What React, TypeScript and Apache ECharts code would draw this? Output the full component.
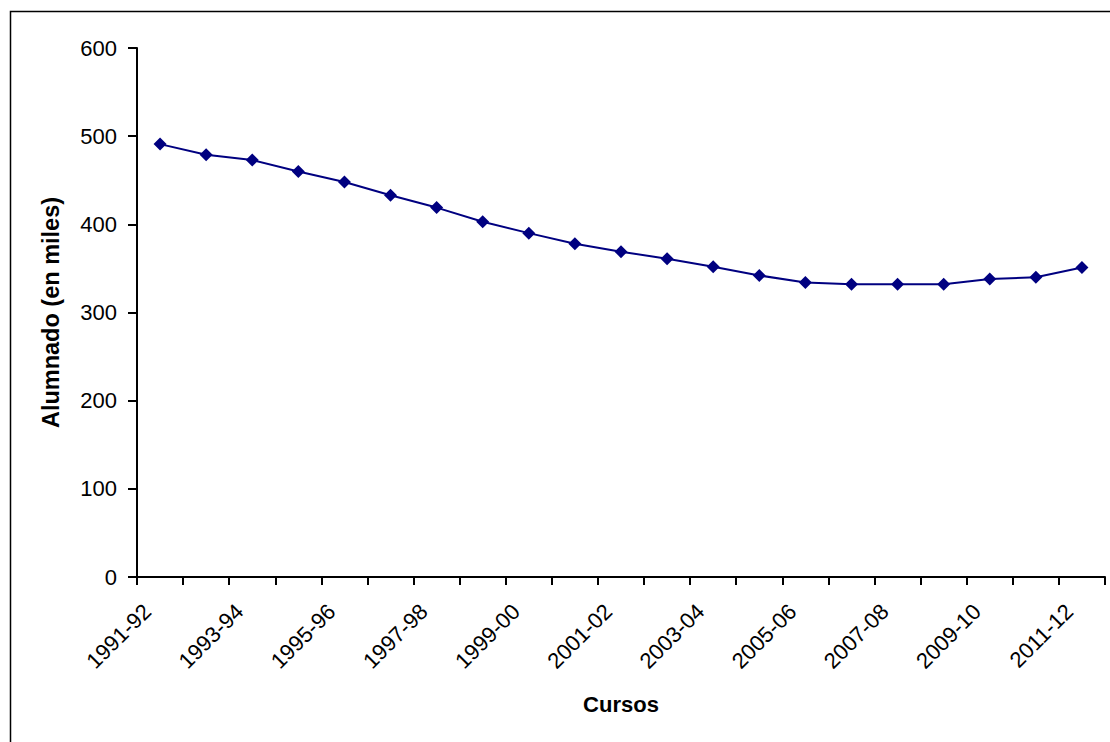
import React, { useEffect, useRef } from "react";
import * as echarts from "echarts";

const cursos = [
  "1991-92", "1992-93", "1993-94", "1994-95", "1995-96", "1996-97", "1997-98",
  "1998-99", "1999-00", "2000-01", "2001-02", "2002-03", "2003-04", "2004-05",
  "2005-06", "2006-07", "2007-08", "2008-09", "2009-10", "2010-11", "2011-12",
];
const alumnado = [
  491, 479, 473, 460, 448, 433, 419, 403, 390, 378, 369, 361, 352, 342, 334,
  332, 332, 332, 338, 340, 351,
];
const yTicks = [0, 100, 200, 300, 400, 500, 600];

const FONT = "'Liberation Sans', Arial, sans-serif";

export default function App() {
  const ref = useRef<HTMLDivElement>(null);
  useEffect(() => {
    if (!ref.current) return;
    const chart = echarts.init(ref.current, null, { renderer: "svg" });
    chart.setOption({
      animation: false,
      backgroundColor: "#ffffff",
      textStyle: { fontFamily: FONT },
      graphic: [
        {
          type: "rect",
          left: 8,
          top: 9,
          shape: { width: 1200, height: 800 },
          style: { fill: "none", stroke: "#000", lineWidth: 1.5 },
          silent: true,
          z: -1,
        },
      ],
      grid: { left: 137, top: 48, right: 5, bottom: 165, containLabel: false },
      xAxis: {
        type: "category",
        data: cursos,
        boundaryGap: true,
        name: "Cursos",
        nameLocation: "middle",
        nameGap: 116,
        nameTextStyle: { fontSize: 22, fontWeight: "bold", color: "#000", fontFamily: FONT },
        axisLine: { lineStyle: { color: "#000", width: 2 } },
        axisTick: { show: true, inside: false, length: 8, interval: 0, lineStyle: { color: "#000", width: 2 } },
        axisLabel: {
          interval: 1,
          rotate: 45,
          fontSize: 22,
          color: "#000",
          margin: 18,
          padding: [0, 18, 0, 0],
          fontFamily: FONT,
        },
        splitLine: { show: false },
      },
      yAxis: {
        type: "value",
        min: yTicks[0],
        max: yTicks[yTicks.length - 1],
        interval: 100,
        name: "Alumnado (en miles)",
        nameLocation: "middle",
        nameGap: 74,
        nameRotate: 90,
        nameTextStyle: { fontSize: 23.5, fontWeight: "bold", color: "#000", fontFamily: FONT },
        axisLine: { show: true, lineStyle: { color: "#000", width: 2 } },
        axisTick: { show: true, inside: false, length: 9, lineStyle: { color: "#000", width: 2 } },
        axisLabel: { fontSize: 22, color: "#000", margin: 20, fontFamily: FONT },
        splitLine: { show: false },
      },
      series: [
        {
          type: "line",
          data: alumnado,
          symbol: "diamond",
          symbolSize: 13,
          lineStyle: { color: "#000080", width: 2 },
          itemStyle: { color: "#000080" },
        },
      ],
    });
    return () => chart.dispose();
  }, []);
  return (
    <div
      ref={ref}
      style={{ position: "absolute", left: 0, top: 0, width: 1110, height: 742 }}
    />
  );
}
